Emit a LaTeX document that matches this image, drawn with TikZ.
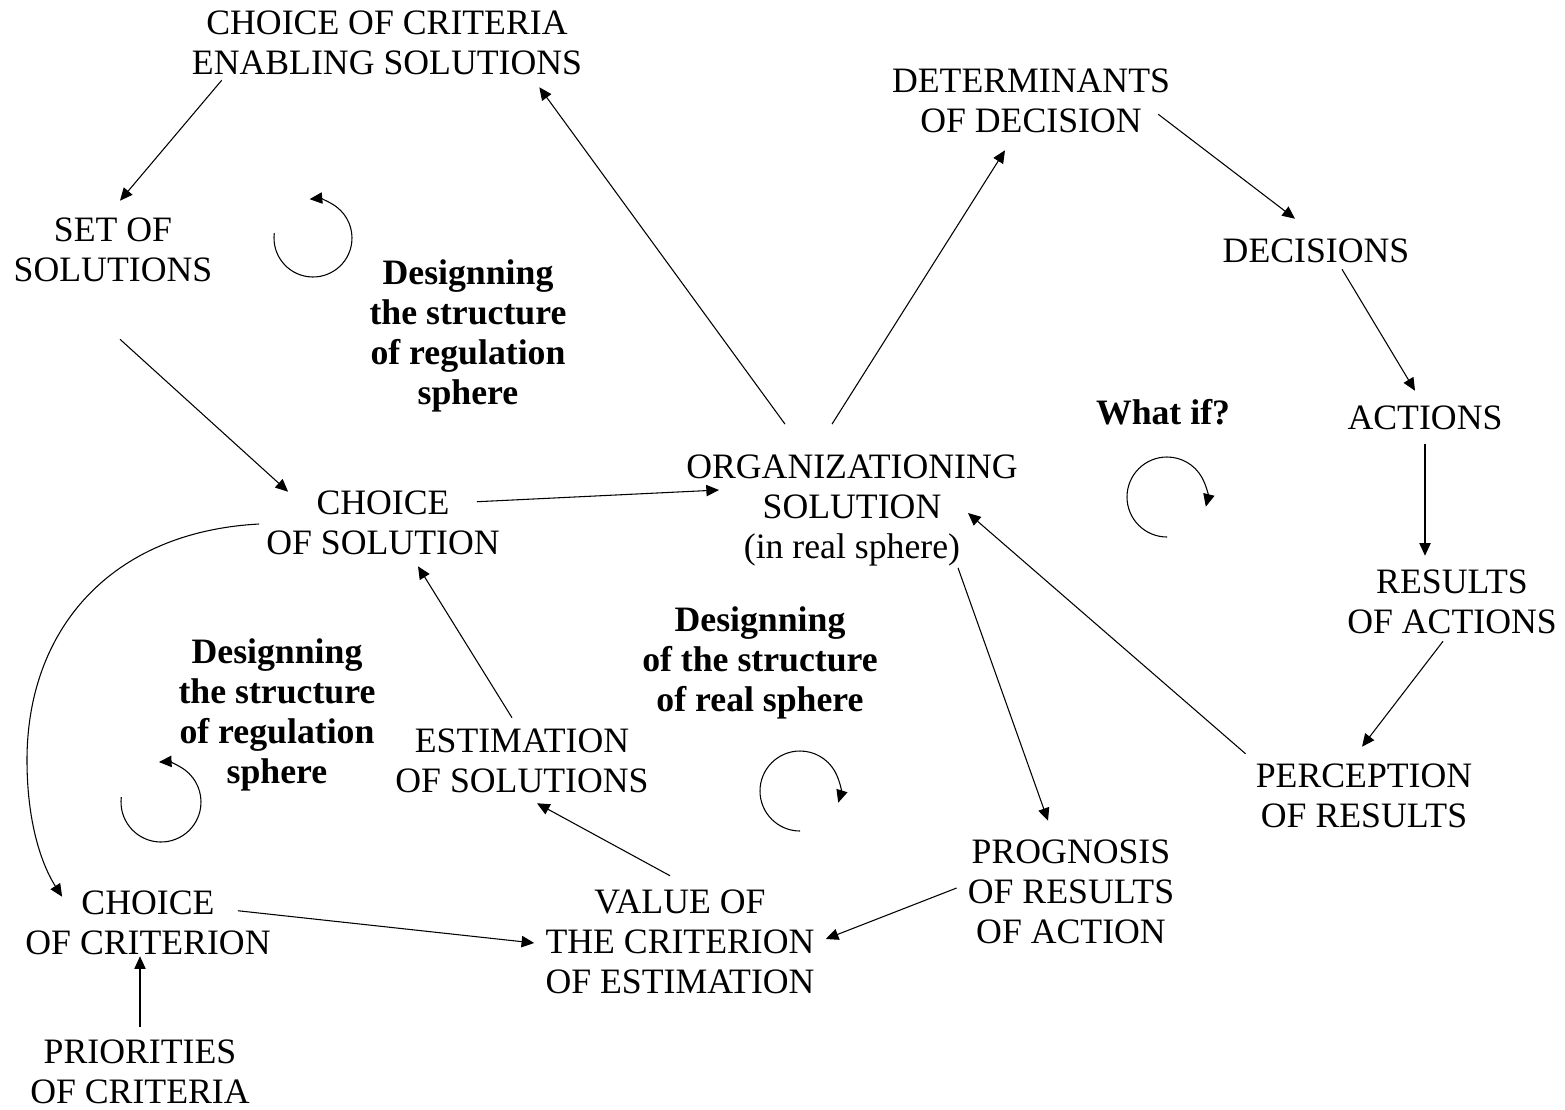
\documentclass[tikz,border=0pt]{standalone}
\usepackage{fontspec}
\setmainfont{Liberation Serif}
\usepackage{tikz}
\usetikzlibrary{arrows.meta}
\tikzstyle{NodeText}=[inner sep=0pt,align=center,font=\fontsize{26.8}{30}\selectfont]
\tikzstyle{NodeBold}=[NodeText,font=\fontsize{26.8}{30}\selectfont\bfseries]
\tikzstyle{EdgeArrow}=[line width=0.8pt,-{Triangle[length=9.5pt,width=8.5pt]}]
\tikzstyle{EdgeLoop}=[EdgeArrow]
\begin{document}
\begin{tikzpicture}[x=0.75pt,y=-0.75pt]
        \useasboundingbox(0,0)rectangle(1565,1109);
        % regulation sphere
        \node[NodeText](critsol)at(387,43){CHOICE OF CRITERIA\\ENABLING SOLUTIONS};
        \node[NodeText](setsol)at(113,250){SET OF\\SOLUTIONS};
        \node[NodeBold](regA)at(468,336){Designning\\the structure\\of regulation\\sphere};
        \node[NodeText](chsol)at(383,523){CHOICE\\OF SOLUTION};
        \node[NodeText](est)at(522,761){ESTIMATION\\OF SOLUTIONS};
        \node[NodeBold](regB)at(277,715){Designning\\the structure\\of regulation\\sphere};
        \node[NodeText](chcrit)at(148,923){CHOICE\\OF CRITERION};
        \node[NodeText](prio)at(140,1072){PRIORITIES\\OF CRITERIA};
        \node[NodeText](val)at(680,942){VALUE OF\\THE CRITERION\\OF ESTIMATION};
        % real sphere
        \node[NodeText](org)at(852,510){ORGANIZATIONING\\SOLUTION\\(in real sphere)};
        \node[NodeBold](real)at(760,663){Designning\\of the structure\\of real sphere};
        \node[NodeText](det)at(1031,101){DETERMINANTS\\OF DECISION};
        \node[NodeText](dec)at(1316,251){DECISIONS};
        \node[NodeText](act)at(1425,418){ACTIONS};
        \node[NodeBold](whatif)at(1163,412){What if?};
        \node[NodeText](res)at(1452,602){RESULTS\\OF ACTIONS};
        \node[NodeText](perc)at(1364,796){PERCEPTION\\OF RESULTS};
        \node[NodeText](prog)at(1071,892){PROGNOSIS\\OF RESULTS\\OF ACTION};
        % connectors
        \draw[EdgeArrow]([shift={(30,5)}]critsol.south west)--([shift={(7,-17)}]setsol.north);
        \draw[EdgeArrow]([shift={(7,57)}]setsol.south)--([shift={(22,1)}]chsol.north west);
        \draw[EdgeArrow]([shift={(-67,-30)}]org.north)--([shift={(-43,12)}]critsol.south east);
        \draw[EdgeArrow]([shift={(-23,11)}]chsol.north east)--([shift={(33,-20)}]org.west);
        \draw[EdgeArrow]([shift={(-20,-30)}]org.north)--([shift={(-26,17)}]det.south);
        \draw[EdgeArrow]([shift={(-12,-19)}]det.south east)--([shift={(-21,-20)}]dec.north);
        \draw[EdgeArrow]([shift={(26,6)}]dec.south)--([shift={(-10,-15)}]act.north);
        \draw[EdgeArrow]([shift={(0,14)}]act.south)--([shift={(-27,-14)}]res.north);
        \draw[EdgeArrow]([shift={(-9,7)}]res.south)--([shift={(-2,-17)}]perc.north);
        \draw[EdgeArrow]([shift={(-10,-10)}]perc.north west)--([shift={(-50,3)}]org.east);
        \draw[EdgeArrow]([shift={(-60,2)}]org.south east)--([shift={(-23,-19)}]prog.north);
        \draw[EdgeArrow]([shift={(-11,-4)}]prog.west)--([shift={(11,-3)}]val.east);
        \draw[EdgeArrow]([shift={(-10,-14)}]val.north)--([shift={(15,10)}]est.south);
        \draw[EdgeArrow]([shift={(-10,-11)}]est.north)--([shift={(35,11)}]chsol.south);
        \draw[EdgeArrow]([shift={(-33,20)}]chcrit.north east)--([shift={(-11,1)}]val.west);
        \draw[EdgeArrow]([shift={(0,-13)}]prio.north)--([shift={(-8,1)}]chcrit.south);
        \draw[EdgeArrow]([shift={(-7,1)}]chsol.west)..controls(110,532)and(27,630)..(27,760)
            ..controls(27,830)and(45,870)..([shift={(37,6)}]chcrit.north west);
        % loops
        \draw[EdgeLoop](313,238)++(187:39)arc[start angle=187,end angle=-95,radius=39];
        \draw[EdgeLoop](161,802)++(187:40)arc[start angle=187,end angle=-93,radius=40];
        \draw[EdgeLoop](1167,497)++(90:40)arc[start angle=90,end angle=374,radius=40];
        \draw[EdgeLoop](800,791)++(90:40)arc[start angle=90,end angle=377,radius=40];
    \end{tikzpicture}
\end{document}
